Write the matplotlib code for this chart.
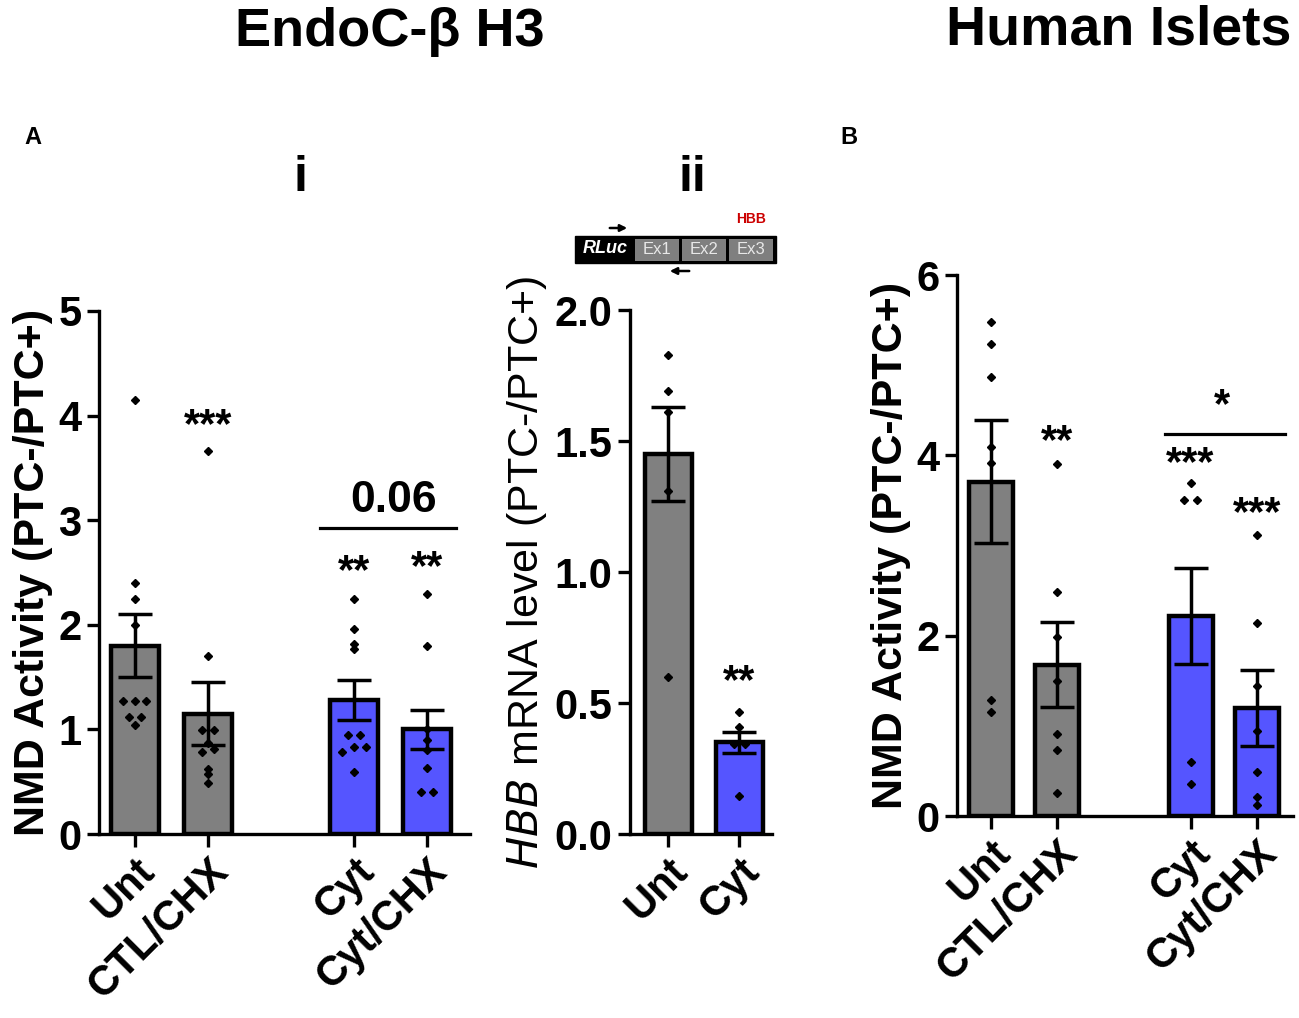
import matplotlib
matplotlib.use("Agg")
import matplotlib.pyplot as plt
import numpy as np
from matplotlib.patches import Rectangle

plt.rcParams['font.family'] = ['Liberation Sans', 'DejaVu Sans']

# ---------------- data ----------------
cats_i = ["Unt", "CTL/CHX", "Cyt", "Cyt/CHX"]
mean_i = [1.80, 1.15, 1.28, 1.00]
sem_i = [0.30, 0.30, 0.19, 0.19]
pts_i_unt = [4.15, 2.40, 2.25, 2.00, 1.27, 1.27, 1.27, 1.12, 1.12, 1.04]
pts_i_ctl = [3.66, 1.70, 0.99, 0.99, 0.87, 0.81, 0.78, 0.62, 0.57, 0.49]
pts_i_cyt = [2.25, 1.96, 1.82, 1.77, 0.95, 0.95, 0.83, 0.83, 0.78, 0.59]
pts_i_cytchx = [2.29, 1.80, 1.00, 0.90, 0.80, 0.63, 0.40, 0.40]

cats_ii = ["Unt", "Cyt"]
mean_ii = [1.45, 0.35]
sem_ii = [0.18, 0.04]
pts_ii_unt = [1.83, 1.69, 1.61, 1.31, 0.60]
pts_ii_cyt = [0.465, 0.41, 0.345, 0.345, 0.144]

cats_b = ["Unt", "CTL/CHX", "Cyt", "Cyt/CHX"]
mean_b = [3.71, 1.68, 2.22, 1.20]
sem_b = [0.68, 0.47, 0.53, 0.42]
pts_b_unt = [5.48, 5.24, 4.87, 4.09, 3.92, 1.29, 1.15]
pts_b_ctl = [3.90, 2.49, 1.99, 1.50, 0.91, 0.73, 0.25]
pts_b_cyt = [3.69, 3.51, 3.51, 0.60, 0.36]
pts_b_cytchx = [3.12, 2.14, 1.44, 0.94, 0.49, 0.21, 0.12]

GRAY = "#808080"
BLUE = "#5555FF"
colors4 = [GRAY, GRAY, BLUE, BLUE]
colors2 = [GRAY, BLUE]

TICK_FS = 30
LAB_FS = 31
STAR_FS = 30


def swarm_offsets(vals, tol, spacing):
    vals = np.asarray(vals, dtype=float)
    order = np.argsort(vals)
    offs = np.zeros(len(vals))
    groups = []
    for idx in order:
        if groups and abs(vals[idx] - vals[groups[-1][0]]) < tol:
            groups[-1].append(idx)
        else:
            groups.append([idx])
    for g in groups:
        n = len(g)
        for k, idx in enumerate(g):
            offs[idx] = (k - (n - 1) / 2) * spacing
    return offs


def style_axis(ax, lw=2.4):
    for s in ['top', 'right']:
        ax.spines[s].set_visible(False)
    for s in ['left', 'bottom']:
        ax.spines[s].set_linewidth(lw)
    ax.tick_params(axis='both', which='major', width=lw, length=9, labelsize=TICK_FS)
    for lab in ax.get_yticklabels():
        lab.set_fontweight('bold')


def draw_panel(ax, xpos, means, sems, colors, pts_list, tol, spacing, width=0.66):
    ax.bar(xpos, means, width=width, color=colors, edgecolor='black', linewidth=3.2, zorder=2)
    ax.errorbar(xpos, means, yerr=sems, fmt='none', ecolor='black',
                elinewidth=2.5, capsize=12, capthick=2.5, zorder=3)
    for x, pts in zip(xpos, pts_list):
        offs = swarm_offsets(pts, tol, spacing)
        ax.plot(np.array([x] * len(pts)) + offs, pts, linestyle='none', marker='D',
                markersize=4, color='black', zorder=4)


def set_xlabels(ax, labels):
    ax.set_xticklabels(labels, rotation=45, ha='right', va='top', rotation_mode='anchor',
                       fontsize=32, fontweight='bold')


fig = plt.figure(figsize=(12.99, 10.18), dpi=100)

# ---------------- panel A i ----------------
ax1 = fig.add_axes([0.0762, 0.1807, 0.2856, 0.5138])
x1 = [0, 1, 3, 4]
draw_panel(ax1, x1, mean_i, sem_i, colors4,
           [pts_i_unt, pts_i_ctl, pts_i_cyt, pts_i_cytchx], tol=0.05, spacing=0.16)
ax1.set_xlim(-0.49, 4.59)
ax1.set_ylim(0, 5)
ax1.set_yticks([0, 1, 2, 3, 4, 5])
ax1.set_xticks(x1)
set_xlabels(ax1, cats_i)
style_axis(ax1)
ax1.set_ylabel("NMD Activity (PTC-/PTC+)", fontsize=LAB_FS, fontweight='bold', labelpad=4)
ax1.text(1, 3.90, "***", ha='center', va='center', fontsize=STAR_FS, fontweight='bold')
ax1.text(3, 2.50, "**", ha='center', va='center', fontsize=STAR_FS, fontweight='bold')
ax1.text(4, 2.54, "**", ha='center', va='center', fontsize=STAR_FS, fontweight='bold')
ax1.plot([2.53, 4.40], [2.93, 2.93], color='black', lw=2.3, clip_on=False)
ax1.text(3.55, 3.19, "0.06", ha='center', va='center', fontsize=32, fontweight='bold')

# ---------------- panel A ii ----------------
ax2 = fig.add_axes([0.485, 0.1807, 0.1093, 0.5147])
x2 = [0, 1]
draw_panel(ax2, x2, mean_ii, sem_ii, colors2, [pts_ii_unt, pts_ii_cyt],
           tol=0.02, spacing=0.16)
ax2.set_xlim(-0.535, 1.46)
ax2.set_ylim(0, 2.0)
ax2.set_yticks([0, 0.5, 1.0, 1.5, 2.0])
ax2.set_yticklabels(["0.0", "0.5", "1.0", "1.5", "2.0"])
ax2.set_xticks(x2)
set_xlabels(ax2, cats_ii)
style_axis(ax2)
ax2.set_ylabel(r"$\mathit{HBB}$ mRNA level (PTC-/PTC+)", fontsize=LAB_FS, labelpad=4)
ax2.text(1, 0.58, "**", ha='center', va='center', fontsize=STAR_FS, fontweight='bold')

# ---------------- panel B ----------------
ax3 = fig.add_axes([0.7367, 0.1984, 0.2587, 0.5314])
draw_panel(ax3, x1, mean_b, sem_b, colors4,
           [pts_b_unt, pts_b_ctl, pts_b_cyt, pts_b_cytchx], tol=0.05, spacing=0.2)
ax3.set_xlim(-0.51, 4.54)
ax3.set_ylim(0, 6)
ax3.set_yticks([0, 2, 4, 6])
ax3.set_xticks(x1)
set_xlabels(ax3, cats_b)
style_axis(ax3)
ax3.set_ylabel("NMD Activity (PTC-/PTC+)", fontsize=LAB_FS, fontweight='bold', labelpad=4)
ax3.text(1, 4.15, "**", ha='center', va='center', fontsize=STAR_FS, fontweight='bold')
ax3.text(3, 3.90, "***", ha='center', va='center', fontsize=STAR_FS, fontweight='bold')
ax3.text(4, 3.35, "***", ha='center', va='center', fontsize=STAR_FS, fontweight='bold')
ax3.plot([2.62, 4.42], [4.24, 4.24], color='black', lw=2.3, clip_on=False)
ax3.text(3.47, 4.55, "*", ha='center', va='center', fontsize=STAR_FS, fontweight='bold')

# ---------------- overlay: titles, letters, gene diagram ----------------
ov = fig.add_axes([0, 0, 1, 1], zorder=-1)
ov.set_xlim(0, 1299)
ov.set_ylim(1018, 0)
ov.axis('off')
ov.text(390, 32, "EndoC-β H3", ha='center', va='center', fontsize=39, fontweight='bold')
ov.text(1291, 30, "Human Islets", ha='right', va='center', fontsize=40, fontweight='bold')
ov.text(33, 137, "A", ha='center', va='center', fontsize=17, fontweight='bold')
ov.text(849, 137, "B", ha='center', va='center', fontsize=17, fontweight='bold')
ov.text(300, 178, "i", ha='center', va='center', fontsize=36, fontweight='bold')
ov.text(692, 178, "ii", ha='center', va='center', fontsize=36, fontweight='bold')

# gene construct diagram
ov.add_patch(Rectangle((575, 236), 201, 27, facecolor='black', edgecolor='black', lw=1))
for x0, lab in [(635, "Ex1"), (682, "Ex2"), (729, "Ex3")]:
    ov.add_patch(Rectangle((x0, 238.5), 44, 22, facecolor='#7f7f7f', edgecolor='none'))
    ov.text(x0 + 22, 249.5, lab, ha='center', va='center', fontsize=12, color='#e8e8e8')
ov.text(605, 248, "RLuc", ha='center', va='center', fontsize=13, color='white',
        fontweight='bold', fontstyle='italic')
ov.text(751, 219, "HBB", ha='center', va='center', fontsize=10, color='#cc0000', fontweight='bold')
ov.annotate("", xy=(630, 228), xytext=(607, 228),
            arrowprops=dict(arrowstyle='-|>', color='black', lw=1.8, mutation_scale=10))
ov.annotate("", xy=(667, 271), xytext=(692, 271),
            arrowprops=dict(arrowstyle='-|>', color='black', lw=1.8, mutation_scale=10))

fig.savefig("out.png", dpi=100)
